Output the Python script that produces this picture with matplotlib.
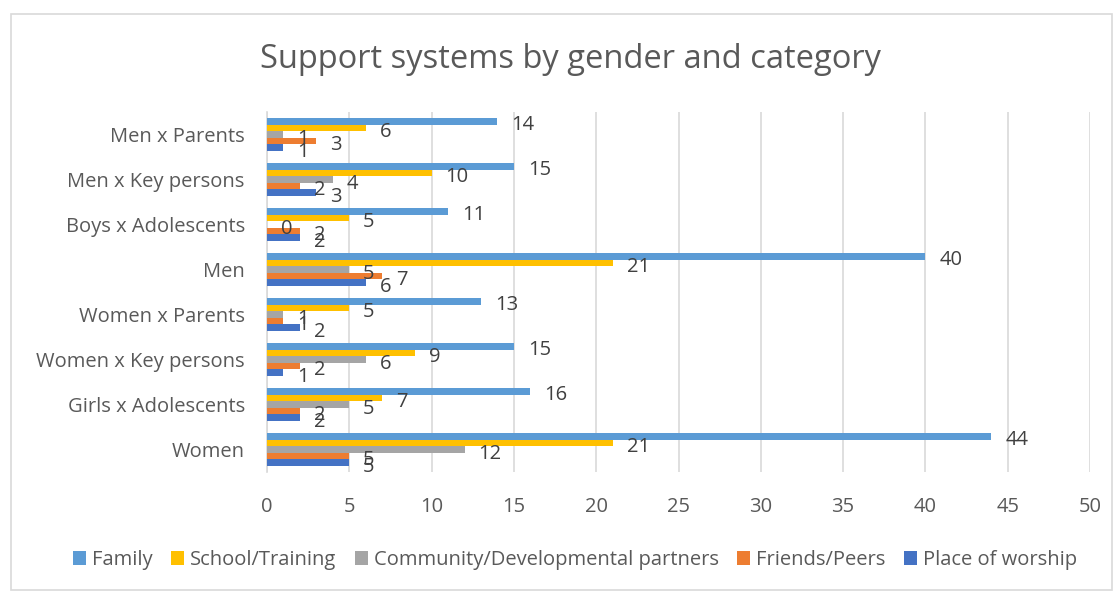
import numpy as np
import matplotlib.pyplot as plt
from matplotlib.patches import Rectangle

plt.rcParams['font.family'] = ['Open Sans', 'DejaVu Sans']

# categories bottom -> top
categories = ['Women', 'Girls x Adolescents', 'Women x Key persons', 'Women x Parents',
              'Men', 'Boys x Adolescents', 'Men x Key persons', 'Men x Parents']
family = [44, 16, 15, 13, 40, 11, 15, 14]
school = [21, 7, 9, 5, 21, 5, 10, 6]
community = [12, 5, 6, 1, 5, 0, 4, 1]
friends = [5, 2, 2, 1, 7, 2, 2, 3]
worship = [5, 2, 1, 2, 6, 2, 3, 1]

series_names = ['Family', 'School/Training', 'Community/Developmental partners',
                'Friends/Peers', 'Place of worship']
colours = ['#5B9BD5', '#FFC000', '#A5A5A5', '#ED7D31', '#4472C4']
txt = '#595959'

fig = plt.figure(figsize=(11.15, 5.92), dpi=100)
ax = fig.add_axes([267/1115, 1 - 472/592, (1090 - 267)/1115, 360/592])

y = np.arange(len(categories))
h = 0.147
offsets = [2*h, h, 0, -h, -2*h]
all_vals = [family, school, community, friends, worship]
for vals, off, col, name in zip(all_vals, offsets, colours, series_names):
    ax.barh(y + off, vals, height=h, color=col, label=name, zorder=3)
    for yy, v in zip(y, vals):
        ax.annotate(str(v), (v, yy + off), xytext=(10, -3), textcoords='offset points',
                    ha='left', va='center', fontsize=14.5, color='#404040', zorder=4)

ax.set_xlim(0, 50)
ax.set_ylim(-0.5, len(categories) - 0.5)
ax.set_xticks(range(0, 51, 5))
ax.set_yticks(y)
ax.set_yticklabels(categories)
ax.tick_params(axis='both', length=0, labelsize=14.5, labelcolor=txt)
ax.tick_params(axis='x', pad=18)
ax.tick_params(axis='y', pad=16)
ax.grid(axis='x', color='#D9D9D9', linewidth=1.2, zorder=0)
for s in ['top', 'right', 'bottom']:
    ax.spines[s].set_visible(False)
ax.spines['left'].set_color('#D9D9D9')
ax.spines['left'].set_linewidth(1.2)

fig.text(570/1115, 1 - 60/592, 'Support systems by gender and category',
         ha='center', va='center', fontsize=23.5, color=txt)

handles, labels = ax.get_legend_handles_labels()
fig.legend(handles, labels, loc='center', bbox_to_anchor=(575/1115, 1 - 560/592),
           ncol=5, frameon=False, fontsize=14.5, labelcolor=txt,
           handlelength=0.65, handleheight=0.65, handletextpad=0.3, columnspacing=0.9)

# chart area border
fig.patches.append(Rectangle((11/1115, 2/592), 1101/1115, 576/592, transform=fig.transFigure,
                             fill=False, edgecolor='#D9D9D9', linewidth=1.2))

fig.savefig('out.png', dpi=100)
